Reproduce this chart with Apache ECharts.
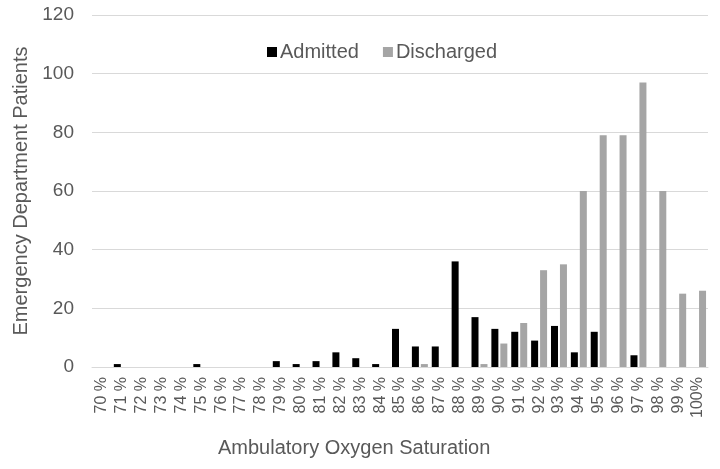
<!DOCTYPE html>
<html>
<head>
<meta charset="utf-8">
<script src="https://cdn.jsdelivr.net/npm/echarts@6/dist/echarts.min.js"></script>
<style>html,body{margin:0;padding:0;background:#fff;}#c{width:720px;height:469px;}</style>
</head>
<body>
<div id="c"></div>
<script>
const categories = ['70 %','71 %','72 %','73 %','74 %','75 %','76 %','77 %','78 %','79 %','80 %','81 %','82 %','83 %','84 %','85 %','86 %','87 %','88 %','89 %','90 %','91 %','92 %','93 %','94 %','95 %','96 %','97 %','98 %','99 %','100%'];
const admitted   = [0,1,0,0,0,1,0,0,0,2,1,2,5,3,1,13,7,7,36,17,13,12,9,14,5,12,0,4,0,0,0];
const discharged = [0,0,0,0,0,0,0,0,0,0,0,0,0,0,0,0,1,0,0,1,8,15,33,35,60,79,79,97,60,25,26];
const yTicks = [0,20,40,60,80,100,120];

const font = 'Liberation Sans, Arial, sans-serif';
const txt = '#595959';
const chart = echarts.init(document.getElementById('c'));
chart.setOption({
  animation: false,
  backgroundColor: '#ffffff',
  grid: { left: 92, right: 12, top: 15, bottom: 102, containLabel: false },
  legend: {
    left: 262, top: 37,
    itemWidth: 10, itemHeight: 10, itemGap: 24,
    icon: 'rect',
    textStyle: { fontFamily: font, fontSize: 20, color: txt, padding: [0,0,0,-2] },
    data: ['Admitted','Discharged']
  },
  graphic: [{
    type: 'text', left: 218, top: 438,
    style: { text: 'Ambulatory Oxygen Saturation', font: '20px ' + font, fill: txt }
  }],
  xAxis: {
    type: 'category',
    data: categories,
    axisLine: { lineStyle: { color: '#d9d9d9', width: 1 } },
    axisTick: { show: false },
    axisLabel: { rotate: 90, margin: 10, fontFamily: font, fontSize: 16, color: txt, interval: 0 }
  },
  yAxis: {
    type: 'value',
    min: yTicks[0], max: yTicks[yTicks.length-1], interval: 20,
    name: 'Emergency Department Patients',
    nameLocation: 'middle', nameGap: 57,
    nameTextStyle: { fontFamily: font, fontSize: 20, color: txt },
    axisLine: { show: false },
    axisTick: { show: false },
    axisLabel: { margin: 18, fontFamily: font, fontSize: 19, color: txt },
    splitLine: { lineStyle: { color: '#d9d9d9', width: 1 } }
  },
  series: [
    { name: 'Admitted', type: 'bar', data: admitted, barWidth: 7, barGap: '28%', itemStyle: { color: '#000000' } },
    { name: 'Discharged', type: 'bar', data: discharged, barWidth: 7, barGap: '28%', itemStyle: { color: '#a5a5a5' } }
  ]
});
</script>
</body>
</html>
